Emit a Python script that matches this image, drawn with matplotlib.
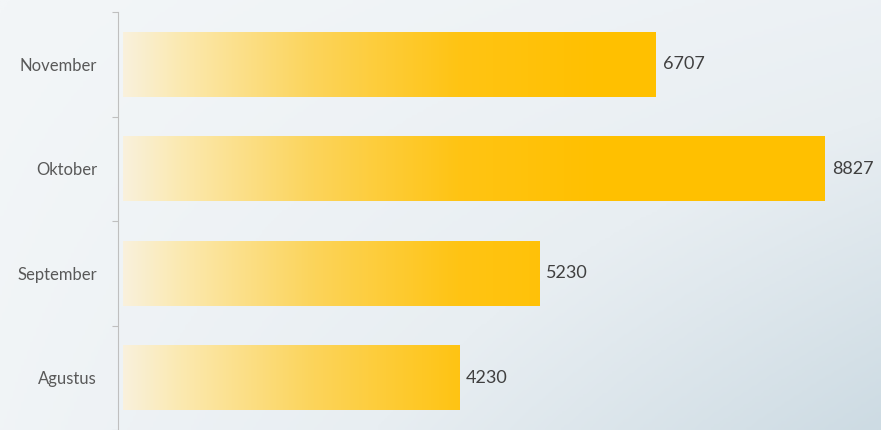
import numpy as np
import matplotlib
matplotlib.use('Agg')
import matplotlib.pyplot as plt
from matplotlib.colors import LinearSegmentedColormap
from matplotlib.patches import Rectangle

months = ['Agustus', 'September', 'Oktober', 'November']
visits = [4230, 5230, 8827, 6707]

plt.rcParams['font.family'] = ['Lato', 'DejaVu Sans']

fig = plt.figure(figsize=(8.81, 4.30), dpi=100)

# soft bluish background like the slide
bg = fig.add_axes([0, 0, 1, 1], zorder=-10)
xx, yy = np.meshgrid(np.linspace(0, 1, 300), np.linspace(0, 1, 150))
shade = 0.45 * xx * yy + 0.25 * xx + 0.1 * yy
bgmap = LinearSegmentedColormap.from_list('bg', ['#f3f6f8', '#e8eef2', '#cddbe3'])
bg.imshow(shade, cmap=bgmap, aspect='auto', extent=[0, 1, 0, 1], origin='upper', vmin=0, vmax=0.8)
bg.axis('off')

ax = fig.add_axes([118 / 881, 0, 1 - 118 / 881, 418 / 430])
ax.patch.set_alpha(0)

barcmap = LinearSegmentedColormap.from_list(
    'bar', [(0, '#f9f1dc'), (0.12, '#fbe9b0'), (0.4, '#fcd45a'), (0.7, '#ffc414'), (1, '#ffc000')])
grad = np.linspace(0, 1, 256).reshape(1, -1)
height = 0.62
fade = 6000

for i, v in enumerate(visits):
    y0, y1 = i - height / 2, i + height / 2
    im = ax.imshow(grad, cmap=barcmap, aspect='auto',
                   extent=[0, fade, y0, y1], vmin=0, vmax=1, zorder=2)
    clip = Rectangle((0, y0), v, height, transform=ax.transData)
    im.set_clip_path(clip)
    if v > fade:
        ax.barh(i, v - fade, left=fade, height=height, color='#ffc000', zorder=2)
    ax.text(v + 85, i, str(v), va='center', ha='left', fontsize=13, color='#404040')

ax.set_xlim(-60, 9530)
ax.set_ylim(-0.481, 3.5)

ax.set_yticks(range(len(months)))
ax.set_yticklabels(months, fontsize=12, color='#595959')
ax.set_yticks(np.arange(-0.5, len(months), 1.0), minor=True)
ax.tick_params(axis='y', which='major', length=0, pad=15)
ax.tick_params(axis='y', which='minor', length=4, color='#bfbfbf', width=0.8)
ax.set_xticks([])
for s in ['top', 'right', 'bottom']:
    ax.spines[s].set_visible(False)
ax.spines['left'].set_color('#bfbfbf')
ax.spines['left'].set_linewidth(0.8)

fig.savefig('out.png', dpi=100)
